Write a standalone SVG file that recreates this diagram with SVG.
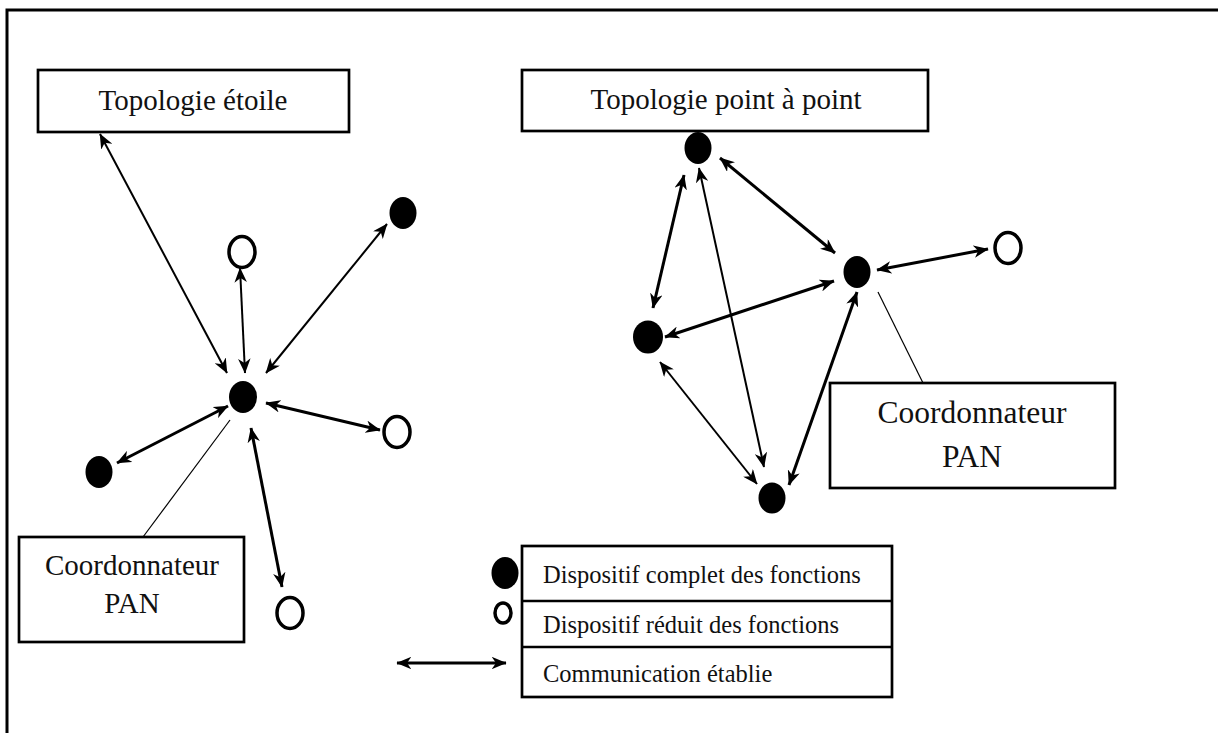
<svg xmlns="http://www.w3.org/2000/svg" width="1218" height="733" viewBox="0 0 1218 733">
  <style>
    .frame { fill: none; stroke: #000; stroke-width: 3; }
    .box { fill: #fff; stroke: #000; stroke-width: 2.7; }
    .lbl { font-family: "Liberation Serif", "Times New Roman", serif; fill: #111; }
    .full { fill: #000; }
    .reduced { fill: #fff; stroke: #000; stroke-width: 3.5; }
    .link { stroke: #000; fill: none; marker-start: url(#head); marker-end: url(#head); }
    .thick { stroke-width: 3; }
    .thin { stroke-width: 2; }
    .leader { stroke: #000; stroke-width: 1.2; fill: none; }
  </style>
  <defs>
    <marker id="head" viewBox="0 0 12 10" refX="11.5" refY="5" markerWidth="15" markerHeight="12.5" markerUnits="userSpaceOnUse" orient="auto-start-reverse">
      <path d="M0,0 L12,5 L0,10 L3.5,5 Z" fill="#000"/>
    </marker>
  </defs>

  <rect x="0" y="0" width="1218" height="733" fill="#fff"/>
  <path class="frame" d="M7,733 V10 H1218"/>

  <!-- connectors -->
  <g id="connectors">
    <!-- star topology -->
    <line class="link thin" x1="100" y1="134" x2="227" y2="373"/>
    <line class="link thin" x1="240" y1="268" x2="245" y2="373"/>
    <line class="link thin" x1="387" y1="224" x2="266" y2="373"/>
    <line class="link thick" x1="266" y1="403" x2="380" y2="430"/>
    <line class="link thick" x1="228" y1="406" x2="117" y2="463"/>
    <line class="link thick" x1="251" y1="428" x2="282" y2="587"/>
    <line class="leader" x1="230" y1="420" x2="143" y2="537"/>
    <!-- point-to-point topology -->
    <line class="link thick" x1="720" y1="158" x2="835" y2="253"/>
    <line class="link thick" x1="684" y1="175" x2="653" y2="308"/>
    <line class="link thin" x1="699" y1="168" x2="764" y2="467"/>
    <line class="link thick" x1="834" y1="281" x2="665" y2="337"/>
    <line class="link thick" x1="857" y1="292" x2="789" y2="485"/>
    <line class="link thin" x1="660" y1="362" x2="757" y2="484"/>
    <line class="link thick" x1="877" y1="270" x2="988" y2="249"/>
    <line class="leader" x1="878" y1="292" x2="923" y2="383"/>
    <!-- legend arrow -->
    <line class="link thick" x1="397" y1="663" x2="506" y2="663"/>
  </g>

  <!-- star topology -->
  <g id="title-star">
    <rect class="box" x="38" y="70" width="311" height="62"/>
    <text class="lbl" x="193" y="110" font-size="29" text-anchor="middle">Topologie étoile</text>
  </g>
  <g id="star-coordinator"><ellipse class="full" cx="243" cy="397" rx="14" ry="16"/></g>
  <g id="star-top"><ellipse class="reduced" cx="242" cy="252" rx="13" ry="15.5"/></g>
  <g id="star-topright"><ellipse class="full" cx="403" cy="213" rx="13.5" ry="16"/></g>
  <g id="star-right"><ellipse class="reduced" cx="397" cy="432" rx="13" ry="15.5"/></g>
  <g id="star-left"><ellipse class="full" cx="99" cy="472" rx="13.5" ry="16"/></g>
  <g id="star-bottom"><ellipse class="reduced" cx="290" cy="613" rx="13" ry="15.5"/></g>
  <g id="star-label">
    <rect class="box" x="19" y="537" width="225" height="105"/>
    <text class="lbl" x="132" y="575" font-size="29" text-anchor="middle">Coordonnateur</text>
    <text class="lbl" x="132" y="613" font-size="29" text-anchor="middle">PAN</text>
  </g>

  <!-- point-to-point topology -->
  <g id="title-p2p">
    <rect class="box" x="522" y="70" width="406" height="61"/>
    <text class="lbl" x="726" y="109" font-size="29" text-anchor="middle">Topologie point à point</text>
  </g>
  <g id="p2p-top"><ellipse class="full" cx="698" cy="148" rx="13.5" ry="16"/></g>
  <g id="p2p-coordinator"><ellipse class="full" cx="857" cy="272" rx="13.5" ry="16"/></g>
  <g id="p2p-left"><ellipse class="full" cx="648" cy="337" rx="15" ry="16.5"/></g>
  <g id="p2p-bottom"><ellipse class="full" cx="772" cy="498" rx="13.5" ry="15.5"/></g>
  <g id="p2p-right"><ellipse class="reduced" cx="1008" cy="248" rx="13" ry="15.5"/></g>
  <g id="p2p-label">
    <rect class="box" x="830" y="383" width="285" height="105"/>
    <text class="lbl" x="972" y="423" font-size="31.5" text-anchor="middle">Coordonnateur</text>
    <text class="lbl" x="972" y="467" font-size="31.5" text-anchor="middle">PAN</text>
  </g>

  <!-- legend -->
  <g id="legend">
    <rect class="box" x="522" y="546" width="370" height="151"/>
    <line class="box" x1="522" y1="601" x2="892" y2="601"/>
    <line class="box" x1="522" y1="647" x2="892" y2="647"/>
    <ellipse class="full" cx="505" cy="573" rx="13.5" ry="16"/>
    <ellipse class="reduced" cx="503" cy="613" rx="8" ry="10" stroke-width="4"/>
    <text class="lbl" x="543" y="583" font-size="24.5">Dispositif complet des fonctions</text>
    <text class="lbl" x="543" y="633" font-size="24.5">Dispositif réduit des fonctions</text>
    <text class="lbl" x="543" y="682" font-size="24.5">Communication établie</text>
  </g>
</svg>
